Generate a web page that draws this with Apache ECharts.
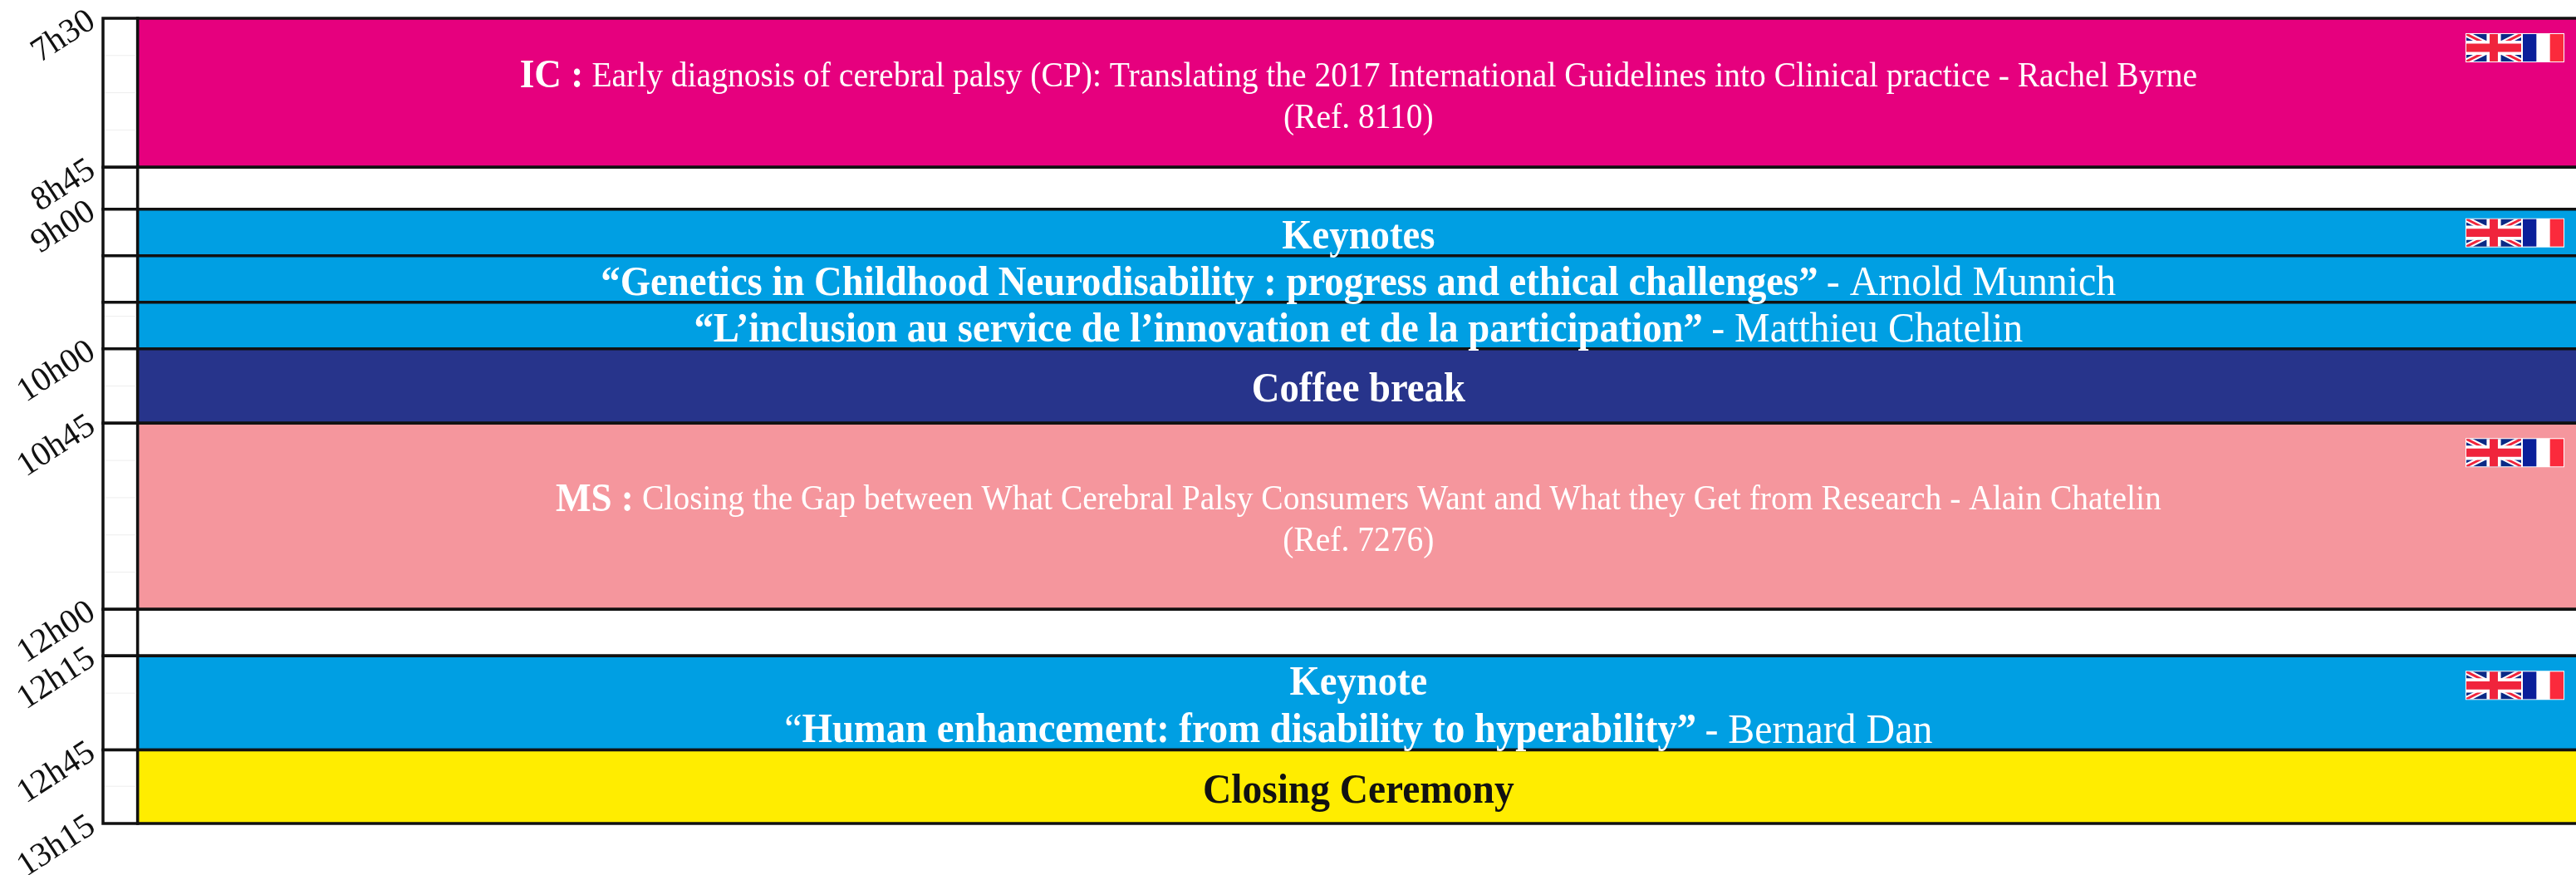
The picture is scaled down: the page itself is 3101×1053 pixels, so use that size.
<!DOCTYPE html>
<html>
<head>
<meta charset="utf-8">
<style>
  html, body { margin: 0; padding: 0; background: #fff; }
  #programme { width: 3101px; height: 1053px; }
</style>
<script src="https://cdn.jsdelivr.net/npm/echarts@6/dist/echarts.min.js"></script>
</head>
<body>
<div id="programme"></div>
<script>
// time slots of the morning, the scale is not linear so rows are counted in grid units
const rowSpans = [16, 4.5, 5, 5, 5, 8, 20, 5, 10.1, 7.9]
const rowKinds = ['ic', 'gap', 'keynote', 'keynote', 'keynote', 'break', 'ms', 'gap', 'keynote', 'closing']
const rowTexts = [
  '{bl|IC :} {r|Early diagnosis of cerebral palsy (CP): Translating the 2017 International Guidelines into Clinical practice - Rachel Byrne}\n{r|(Ref. 8110)}',
  '',
  '{b|Keynotes}',
  '{b|“Genetics in Childhood Neurodisability : progress and ethical challenges”} {n|- Arnold Munnich}',
  '{b|“L’inclusion au service de l’innovation et de la participation”} {n|- Matthieu Chatelin}',
  '{b|Coffee break}',
  '{bl|MS :} {r|Closing the Gap between What Cerebral Palsy Consumers Want and What they Get from Research - Alain Chatelin}\n{r|(Ref. 7276)}',
  '',
  '{b|Keynote}\n{n|“}{b|Human enhancement: from disability to hyperability”} {n|- Bernard Dan}',
  '{k|Closing Ceremony}'
]
const tickLabels = ['7h30', '8h45', '9h00', '', '', '10h00', '10h45', '12h00', '12h15', '12h45', '13h15']
const flagRows = [0, 2, 6, 8]
// faint quarter hour marks inside the time column
const faintMarks = [4, 8, 12, 32, 39.5, 47.5, 51.5, 55.5, 59.5, 72.5, 82.5]

const kindColor = {
  ic: '#e6007e',
  gap: '#ffffff',
  keynote: '#009fe3',
  break: '#27348b',
  ms: '#f5969d',
  closing: '#ffed00'
}

// row edges in grid units
const edges = [0]
rowSpans.forEach(function (s) { edges.push(edges[edges.length - 1] + s) })

const FONT = '"Liberation Serif", serif'
const LINE = '#111111'
const TIME_COL = 1.4 // share of x axis used by the time column

function polygon (pts, fill) {
  return { type: 'polygon', shape: { points: pts }, style: { fill: fill } }
}

function ukFlag (x, y, w, h) {
  const r = x + w
  const b = y + h
  const cx = x + w / 2
  const cy = y + h / 2
  const diag = function (t, fill) {
    return [
      polygon([[x, y], [x + t, y], [r, b - t * h / w], [r, b], [r - t, b], [x, y + t * h / w]], fill),
      polygon([[r, y], [r - t, y], [x, b - t * h / w], [x, b], [x + t, b], [r, y + t * h / w]], fill)
    ]
  }
  return [
    { type: 'rect', shape: { x: x - 1, y: y - 1, width: w + 2, height: h + 2 }, style: { fill: '#fff' } },
    { type: 'rect', shape: { x: x, y: y, width: w, height: h }, style: { fill: '#0b2a86' } }
  ].concat(diag(w * 0.12, '#fff'), diag(w * 0.05, '#f0243c'), [
    { type: 'rect', shape: { x: cx - h * 0.26, y: y, width: h * 0.52, height: h }, style: { fill: '#fff' } },
    { type: 'rect', shape: { x: x, y: cy - h * 0.26, width: w, height: h * 0.52 }, style: { fill: '#fff' } },
    { type: 'rect', shape: { x: cx - h * 0.15, y: y, width: h * 0.3, height: h }, style: { fill: '#f0243c' } },
    { type: 'rect', shape: { x: x, y: cy - h * 0.15, width: w, height: h * 0.3 }, style: { fill: '#f0243c' } }
  ])
}

function frFlag (x, y, w, h) {
  return [
    { type: 'rect', shape: { x: x - 1, y: y - 1, width: w + 2, height: h + 2 }, style: { fill: '#fff' } },
    { type: 'rect', shape: { x: x, y: y, width: w / 3, height: h }, style: { fill: '#0a1f9a' } },
    { type: 'rect', shape: { x: x + w * 2 / 3, y: y, width: w / 3, height: h }, style: { fill: '#fb2a3c' } }
  ]
}

function renderRow (params, api) {
  const i = api.value(0)
  const topLeft = api.coord([0, edges[i]])
  const colEdge = api.coord([TIME_COL, edges[i]])[0]
  const botRight = api.coord([100, edges[i + 1]])
  const top = topLeft[1]
  const height = botRight[1] - top
  return {
    type: 'group',
    children: [
      {
        type: 'rect',
        shape: { x: topLeft[0], y: top, width: colEdge - topLeft[0], height: height },
        style: { fill: '#fff', stroke: LINE, lineWidth: 3.5 }
      },
      {
        type: 'rect',
        shape: { x: colEdge, y: top, width: botRight[0] - colEdge + 3, height: height },
        style: { fill: kindColor[rowKinds[i]], stroke: LINE, lineWidth: 3.5 }
      }
    ]
  }
}

// text sits above the rows, descenders run over the black lines
function renderRowText (params, api) {
  const i = api.value(0)
  const colEdge = api.coord([TIME_COL, edges[i]])[0]
  const botRight = api.coord([100, edges[i + 1]])
  const top = api.coord([0, edges[i]])[1]
  const height = botRight[1] - top
  const children = []
  if (rowTexts[i]) {
    children.push({
      type: 'text',
      x: (colEdge + botRight[0]) / 2 + 2,
      y: top + height / 2 + 6,
      scaleX: 0.93,
      style: {
        text: rowTexts[i],
        fontFamily: FONT,
        fontSize: 44,
        fill: '#fff',
        align: 'center',
        verticalAlign: 'middle',
        rich: {
          bl: { fontFamily: FONT, fontSize: 48.5, fontWeight: 'bold', fill: '#fff', lineHeight: 50 },
          r: { fontFamily: FONT, fontSize: 42.5, fill: '#fff', lineHeight: 50 },
          b: { fontFamily: FONT, fontSize: 50.2, fontWeight: 'bold', fill: '#fff', lineHeight: 57 },
          n: { fontFamily: FONT, fontSize: 51.5, fill: '#fff', lineHeight: 57 },
          k: { fontFamily: FONT, fontSize: 51, fontWeight: 'bold', fill: '#111', lineHeight: 57 }
        }
      }
    })
  }
  if (flagRows.indexOf(i) >= 0) {
    const fy = top + (i === 2 ? 12 : 19)
    children.push.apply(children, ukFlag(2969, fy, 66, 33))
    children.push.apply(children, frFlag(3037, fy, 49, 33))
  }
  return { type: 'group', children: children }
}

function renderFaint (params, api) {
  const a = api.coord([0, api.value(0)])
  const b = api.coord([TIME_COL, api.value(0)])
  return {
    type: 'line',
    shape: { x1: a[0] + 2, y1: a[1], x2: b[0] - 2, y2: b[1] },
    style: { stroke: '#eeeeee', lineWidth: 1 }
  }
}

const rowData = rowSpans.map(function (s, i) { return [i] })

const chart = echarts.init(document.getElementById('programme'))
chart.setOption({
  animation: false,
  backgroundColor: '#fff',
  grid: { left: 124, right: 0, top: 22, bottom: 62, outerBoundsMode: 'none' },
  xAxis: { type: 'value', min: 0, max: 100, show: false },
  yAxis: {
    type: 'value',
    inverse: true,
    min: 0,
    max: edges[edges.length - 1],
    axisLine: { show: false },
    axisTick: { show: false },
    splitLine: { show: false },
    axisLabel: {
      customValues: edges,
      rotate: 33,
      margin: 13,
      fontFamily: FONT,
      fontSize: 41,
      color: '#111',
      formatter: function (v) {
        return tickLabels[edges.indexOf(v)]
      }
    }
  },
  series: [
    {
      type: 'custom',
      clip: false,
      renderItem: renderRow,
      data: rowData,
      encode: { x: -1, y: -1 },
      silent: true,
      z: 2
    },
    {
      type: 'custom',
      clip: false,
      renderItem: renderFaint,
      data: faintMarks.map(function (m) { return [m] }),
      encode: { x: -1, y: -1 },
      silent: true,
      z: 3
    },
    {
      type: 'custom',
      clip: false,
      renderItem: renderRowText,
      data: rowData,
      encode: { x: -1, y: -1 },
      silent: true,
      z: 4
    }
  ]
})
</script>
</body>
</html>
